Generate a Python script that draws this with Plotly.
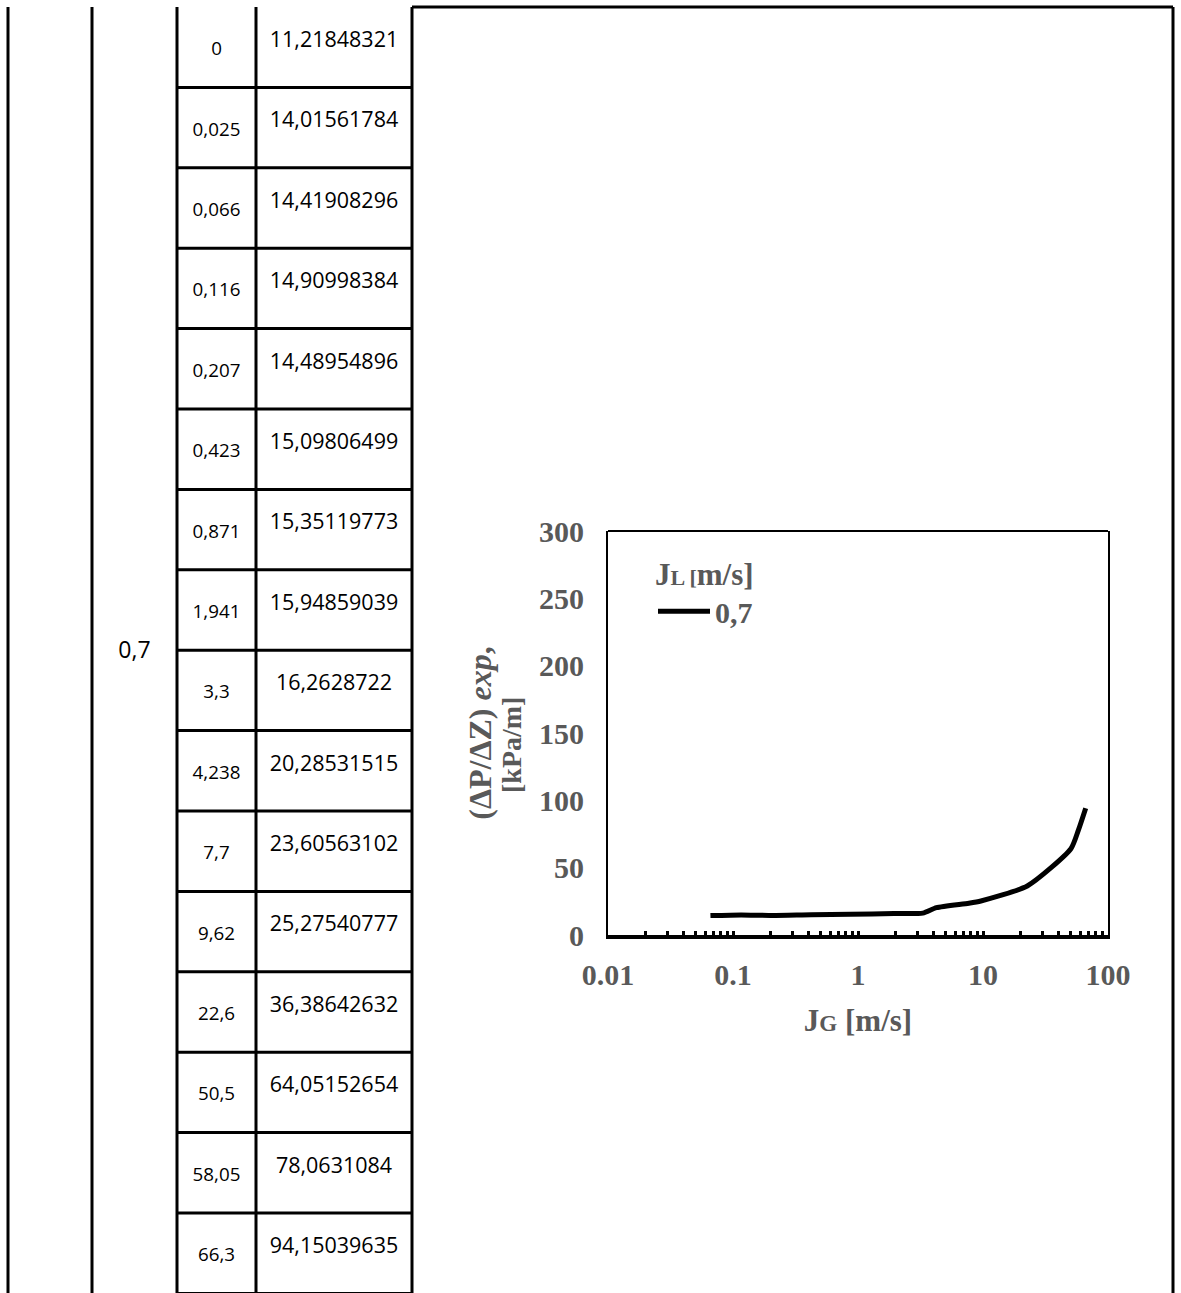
import plotly.graph_objects as go

JL_VALUE = 0.7
JG = [0, 0.025, 0.066, 0.116, 0.207, 0.423, 0.871, 1.941, 3.3, 4.238,
      7.7, 9.62, 22.6, 50.5, 58.05, 66.3]
DPDZ = [11.21848321, 14.01561784, 14.41908296, 14.90998384, 14.48954896,
        15.09806499, 15.35119773, 15.94859039, 16.2628722, 20.28531515,
        23.60563102, 25.27540777, 36.38642632, 64.05152654, 78.0631084,
        94.15039635]
X_TICKS = [0.01, 0.1, 1, 10, 100]
X_TICK_TEXT = ["0.01", "0.1", "1", "10", "100"]
Y_TICKS = [0, 50, 100, 150, 200, 250, 300]
CHART_START = 2   # the chart series starts at JG = 0.066


def dec(v):
    return str(v).replace(".", ",")


# ---------------- layout constants ----------------
W, H = 1181, 1293
COL_EDGES = [8, 92, 177, 256, 412, 1173]
TOP = 7
ROW_H = 80.4
N = len(JG)
GRAY = "#595959"
SERIF = "Liberation Serif"
SANS = "Open Sans"

fig = go.Figure()

# ---------------- table (drawn on a page-sized helper axis pair) ----------------
vx, vy = [], []
for e in COL_EDGES:
    vx += [e, e, None]
    vy += [0, N + 0.5, None]
for i in range(1, N + 1):
    vx += [COL_EDGES[2], COL_EDGES[4], None]
    vy += [i, i, None]
vx += [COL_EDGES[4], COL_EDGES[5], None]
vy += [0, 0, None]
fig.add_trace(go.Scatter(x=vx, y=vy, mode="lines", xaxis="x2", yaxis="y2",
                         line=dict(color="black", width=3),
                         showlegend=False, hoverinfo="skip"))

cx_jg = (COL_EDGES[2] + COL_EDGES[3]) / 2
cx_val = (COL_EDGES[3] + COL_EDGES[4]) / 2
cx_jl = (COL_EDGES[1] + COL_EDGES[2]) / 2
fig.add_trace(go.Scatter(x=[cx_jg] * N, y=[i + 0.54 for i in range(N)],
                         text=[dec(v) for v in JG], mode="text",
                         textfont=dict(family=SANS, size=18.8, color="black"),
                         xaxis="x2", yaxis="y2", showlegend=False, hoverinfo="skip"))
fig.add_trace(go.Scatter(x=[cx_val] * N, y=[i + 0.43 for i in range(N)],
                         text=[dec(v) for v in DPDZ], mode="text",
                         textfont=dict(family=SANS, size=21.5, color="black"),
                         xaxis="x2", yaxis="y2", showlegend=False, hoverinfo="skip"))
fig.add_trace(go.Scatter(x=[cx_jl], y=[N / 2 + 0.02], text=[dec(JL_VALUE)], mode="text",
                         textfont=dict(family=SANS, size=23, color="black"),
                         xaxis="x2", yaxis="y2", showlegend=False, hoverinfo="skip"))

# ---------------- chart ----------------
fig.add_trace(go.Scatter(x=JG[CHART_START:], y=DPDZ[CHART_START:], mode="lines",
                         name=dec(JL_VALUE),
                         line=dict(color="black", width=5, shape="spline", smoothing=0.6)))

tickfont = dict(family=SERIF, size=30, color=GRAY, weight="bold")
fig.update_layout(
    width=W, height=H,
    margin=dict(l=0, r=0, t=0, b=0, autoexpand=False),
    paper_bgcolor="white",
    plot_bgcolor="rgba(0,0,0,0)",
    xaxis=dict(type="log", range=[-2, 2], domain=[608 / W, 1108 / W], anchor="y",
               tickvals=X_TICKS, ticktext=X_TICK_TEXT, tickfont=tickfont,
               ticks="inside", ticklen=4, tickwidth=3, tickcolor="black",
               minor=dict(ticks="inside", ticklen=4, tickwidth=3, tickcolor="black",
                          dtick="D1", showgrid=False),
               showline=True, linewidth=4, linecolor="black",
               showgrid=False, zeroline=False, ticklabelstandoff=10,
               title=dict(text="J<span style='font-size:23px'>G</span> [m/s]",
                          font=dict(family=SERIF, size=31, color=GRAY, weight="bold"),
                          standoff=20)),
    yaxis=dict(range=[0, 300], domain=[1 - 935 / H, 1 - 531 / H], anchor="x",
               tickvals=Y_TICKS, tickfont=tickfont, ticks="",
               showline=True, linewidth=2, linecolor="black", mirror=True,
               showgrid=False, zeroline=False, ticklabelstandoff=16,
               title=dict(text="(ΔP/ΔZ) <i>exp</i>,",
                          font=dict(family=SERIF, size=32, color=GRAY, weight="bold"),
                          standoff=38)),
    xaxis2=dict(domain=[0, 1], range=[0, W], anchor="y2", visible=False, fixedrange=True),
    yaxis2=dict(domain=[0, 1], range=[(H - TOP) / ROW_H, -TOP / ROW_H], anchor="x2",
                visible=False, fixedrange=True),
    showlegend=True,
    legend=dict(x=653 / W, y=1 - 545 / H, xanchor="left", yanchor="top",
                bgcolor="rgba(0,0,0,0)", itemwidth=52,
                font=dict(family=SERIF, size=30, color=GRAY, weight="bold"),
                title=dict(text="J<span style='font-size:22px'>L [</span>m/s]",
                           font=dict(family=SERIF, size=31, color=GRAY, weight="bold"))),
    shapes=[dict(type="line", xref="x domain", yref="y domain", x0=0, x1=1, y0=1, y1=1,
                 line=dict(color="black", width=2))],
    annotations=[dict(text="[kPa/m]", textangle=-90, xref="paper", yref="paper",
                      x=511 / W, y=1 - 745 / H, xanchor="center", yanchor="middle",
                      showarrow=False,
                      font=dict(family=SERIF, size=28, color=GRAY, weight="bold"))],
)

fig.write_html("out.html")
